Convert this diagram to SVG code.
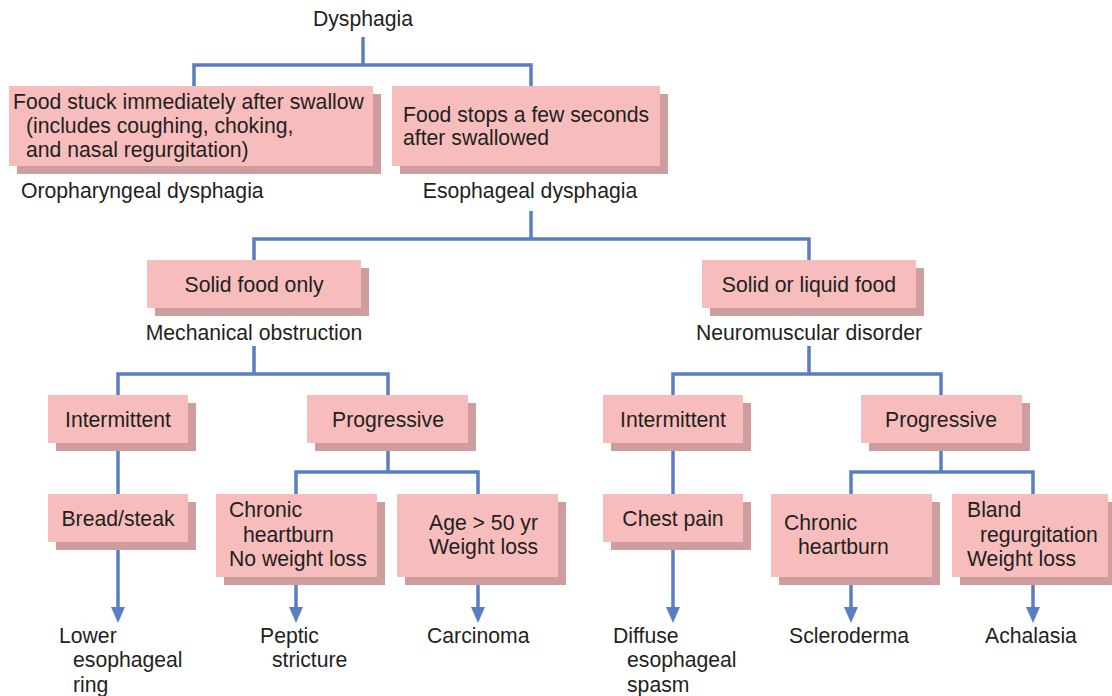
<svg xmlns="http://www.w3.org/2000/svg" width="1112" height="696" viewBox="0 0 1112 696">
<style>
.sh{fill:#cf9d9d}
.bx{fill:#f7bdbd}
text{font-family:"Liberation Sans",Arial,sans-serif;font-size:21.2px;fill:#231f20}
.m{text-anchor:middle}
.ln{fill:none;stroke:#5b7ec2;stroke-width:3.5}
</style>
<defs>
<marker id="ah" markerUnits="userSpaceOnUse" markerWidth="16" markerHeight="14" refX="3" refY="7" orient="auto">
<path d="M0,0 L16,7 L0,14 z" fill="#5b7ec2"/>
</marker>
</defs>
<rect width="1112" height="696" fill="#ffffff"/>
<g id="connectors">
<path class="ln" d="M363 37 V65 M194 86 V65 H531 V86"/>
<path class="ln" d="M531 211 V239 M254 260 V239 H809 V260"/>
<path class="ln" d="M254 346 V374 M118 395 V374 H388 V395"/>
<path class="ln" d="M809 346 V374 M673 395 V374 H941 V395"/>
<path class="ln" d="M118 443 V494"/>
<path class="ln" d="M388 443 V472 M296 494 V472 H478 V494"/>
<path class="ln" d="M673 443 V494"/>
<path class="ln" d="M941 443 V472 M851 494 V472 H1033 V494"/>
<path class="ln" d="M118 542 V610" marker-end="url(#ah)"/>
<path class="ln" d="M296 577 V610" marker-end="url(#ah)"/>
<path class="ln" d="M478 577 V610" marker-end="url(#ah)"/>
<path class="ln" d="M673 542 V610" marker-end="url(#ah)"/>
<path class="ln" d="M851 577 V610" marker-end="url(#ah)"/>
<path class="ln" d="M1033 577 V610" marker-end="url(#ah)"/>
</g>
<g id="dysphagia"><text class="m" x="363" y="26">Dysphagia</text></g>
<g id="oro">
<rect class="sh" x="17" y="94" width="364" height="80"/>
<rect class="bx" x="9" y="86" width="364" height="80"/>
<text x="13" y="109">Food stuck immediately after swallow</text>
<text x="26" y="133">(includes coughing, choking,</text>
<text x="26" y="157">and nasal regurgitation)</text>
<text x="21" y="198">Oropharyngeal dysphagia</text>
</g>
<g id="eso">
<rect class="sh" x="400" y="94" width="268" height="80"/>
<rect class="bx" x="392" y="86" width="268" height="80"/>
<text x="403" y="122">Food stops a few seconds</text>
<text x="403" y="145">after swallowed</text>
<text class="m" x="530" y="198">Esophageal dysphagia</text>
</g>
<g id="solid">
<rect class="sh" x="155" y="268" width="214" height="48"/>
<rect class="bx" x="147" y="260" width="214" height="48"/>
<text class="m" x="254" y="292">Solid food only</text>
<text class="m" x="254" y="340">Mechanical obstruction</text>
</g>
<g id="solidliquid">
<rect class="sh" x="710" y="268" width="214" height="48"/>
<rect class="bx" x="702" y="260" width="214" height="48"/>
<text class="m" x="809" y="292">Solid or liquid food</text>
<text class="m" x="809" y="340">Neuromuscular disorder</text>
</g>
<g id="mech-intermittent">
<rect class="sh" x="56" y="403" width="140" height="48"/>
<rect class="bx" x="48" y="395" width="140" height="48"/>
<text class="m" x="118" y="427">Intermittent</text>
</g>
<g id="mech-progressive">
<rect class="sh" x="315" y="403" width="161" height="48"/>
<rect class="bx" x="307" y="395" width="161" height="48"/>
<text class="m" x="388" y="427">Progressive</text>
</g>
<g id="neuro-intermittent">
<rect class="sh" x="611" y="403" width="140" height="48"/>
<rect class="bx" x="603" y="395" width="140" height="48"/>
<text class="m" x="673" y="427">Intermittent</text>
</g>
<g id="neuro-progressive">
<rect class="sh" x="869" y="403" width="161" height="48"/>
<rect class="bx" x="861" y="395" width="161" height="48"/>
<text class="m" x="941" y="427">Progressive</text>
</g>
<g id="bread">
<rect class="sh" x="56" y="502" width="140" height="48"/>
<rect class="bx" x="48" y="494" width="140" height="48"/>
<text class="m" x="118" y="526">Bread/steak</text>
</g>
<g id="heartburn1">
<rect class="sh" x="224" y="502" width="161" height="83"/>
<rect class="bx" x="216" y="494" width="161" height="83"/>
<text x="229" y="517">Chronic</text>
<text x="243" y="542">heartburn</text>
<text x="229" y="566">No weight loss</text>
</g>
<g id="age">
<rect class="sh" x="405" y="502" width="161" height="83"/>
<rect class="bx" x="397" y="494" width="161" height="83"/>
<text x="429" y="530">Age &gt; 50 yr</text>
<text x="429" y="554">Weight loss</text>
</g>
<g id="chest">
<rect class="sh" x="611" y="502" width="140" height="48"/>
<rect class="bx" x="603" y="494" width="140" height="48"/>
<text class="m" x="673" y="526">Chest pain</text>
</g>
<g id="heartburn2">
<rect class="sh" x="779" y="502" width="161" height="83"/>
<rect class="bx" x="771" y="494" width="161" height="83"/>
<text x="784" y="530">Chronic</text>
<text x="798" y="554">heartburn</text>
</g>
<g id="bland">
<rect class="sh" x="960" y="502" width="152" height="83"/>
<rect class="bx" x="952" y="494" width="156" height="83"/>
<text x="967" y="517">Bland</text>
<text x="980" y="542">regurgitation</text>
<text x="967" y="566">Weight loss</text>
</g>
<g id="ring">
<text x="59" y="643">Lower</text>
<text x="73" y="667">esophageal</text>
<text x="73" y="692">ring</text>
</g>
<g id="peptic">
<text x="260" y="643">Peptic</text>
<text x="272" y="667">stricture</text>
</g>
<g id="carcinoma"><text x="427" y="643">Carcinoma</text></g>
<g id="spasm">
<text x="613" y="643">Diffuse</text>
<text x="627" y="667">esophageal</text>
<text x="627" y="692">spasm</text>
</g>
<g id="scleroderma"><text x="789" y="643">Scleroderma</text></g>
<g id="achalasia"><text x="985" y="643">Achalasia</text></g>
</svg>
